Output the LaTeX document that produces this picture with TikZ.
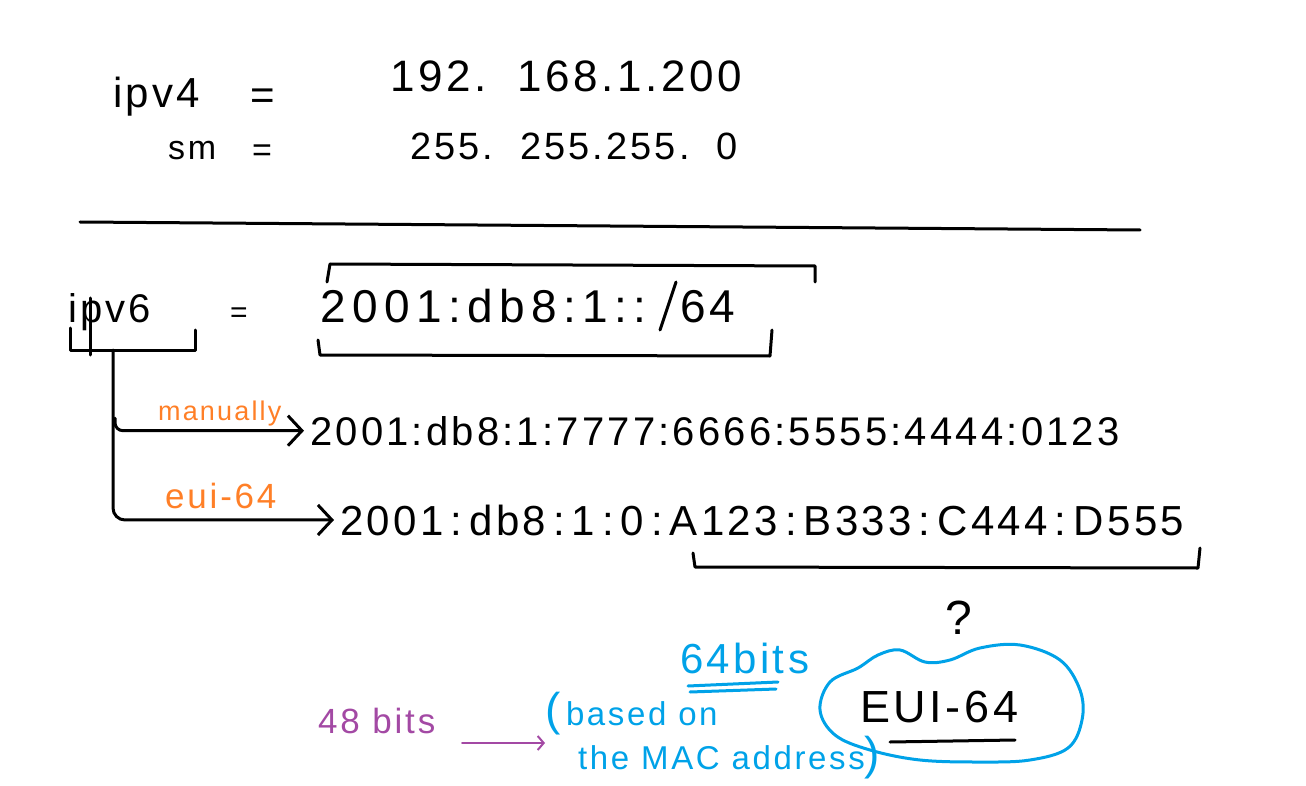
\documentclass[tikz,border=0pt]{standalone}
\usepackage{fontspec}
\setmainfont{Liberation Sans}[LetterSpace=8]
\usetikzlibrary{arrows.meta}

\definecolor{penorange}{HTML}{FF7F27}
\definecolor{penblue}{HTML}{00A2E8}
\definecolor{penpurple}{HTML}{A349A4}
\newcommand\handsize[1]{\fontsize{#1}{#1}\selectfont}

\begin{document}
\begin{tikzpicture}[
    x=1pt, y=-1pt,
    hand/.style={inner sep=0pt, anchor=base west},
    pen/.style={line width=3pt, line cap=round, line join=round},
    arrow/.style={pen, -{Straight Barb[length=14pt,width=30pt]}, shorten >=6pt},
    thinarrow/.style={line width=2pt, line cap=round, penpurple, -{Straight Barb[length=6pt,width=14pt]}},
    blob/.style={line width=3pt, penblue, line join=round}
]
\useasboundingbox (0,0) rectangle (1306,786);
% ipv4 part
\node[hand, font=\handsize{42}] (ipv4) at (113,108) {ipv4};
\node[hand, font=\handsize{42}] (eq4) at (250,110) {=};
\node[hand, font=\handsize{44}] (addr4) at (390,92) {192.\ \ 168.1.200};
\node[hand, font=\handsize{34}] (sm) at (168,160) {sm};
\node[hand, font=\handsize{34}] (eqsm) at (252,162) {=};
\node[hand, font=\handsize{38}] (mask) at (410,160) {255.\ \ 255.255.\ \ 0};
\draw[pen] (80,222) -- (1140,230);
% ipv6 prefix
\node[hand, font=\handsize{40}] (ipv6) at (68,323) {ipv6};
\node[hand, font=\handsize{30}] (eq6) at (230,323) {=};
\node[hand, font=\handsize{46}\addfontfeature{LetterSpace=14}] (prefix) at (320,323) {2001:db8:1::};
\node[hand, font=\handsize{46}] (len) at (680,323) {64};
\draw[pen] (660,330) -- (676,282);
\draw[pen] (70,328) -- (70,350) -- (195,350) -- (195,330);
\draw[pen] (90,298) -- (90,355);
\draw[pen] (327,282) -- (330,264) -- (815,266) -- (815,282);
\draw[pen] (318,340) -- (320,355) -- (770,356) -- (772,330);
% the two ways
\node[hand, font=\handsize{40}] (rowA) at (310,445) {2001:db8:1:7777:6666:5555:4444:0123};
\node[hand, font=\handsize{42}] (rowB) at (340,535) {2001\,:\,db8\,:\,1\,:\,0\,:\,A123\,:\,B333\,:\,C444\,:\,D555};
\coordinate (fork) at (113,350);
\coordinate (branch) at (115,418);
\draw[arrow, rounded corners=12pt] (fork) |- (rowB.west);
\draw[arrow, rounded corners=8pt] (branch) |- (rowA.west);
\node[hand, font=\handsize{27}, text=penorange] (manual) at (158,420) {manually};
\node[hand, font=\handsize{35}, text=penorange] (euilbl) at (165,508) {eui-64};
\draw[pen] (693,553) -- (695,567) -- (1198,568) -- (1200,548);
% interface id
\node[hand, font=\handsize{48}] (qmark) at (945,634) {?};
\node[hand, font=\handsize{45}] (eui) at (860,722) {EUI-64};
\draw[pen] (890,742) -- (1015,740);
\draw[blob] plot[smooth cycle, tension=0.6] coordinates {
  (820,710) (830,682) (858,668) (878,655) (900,650) (925,662) (950,660)
  (980,648) (1020,645) (1060,660) (1080,690) (1082,720) (1068,748)
  (1030,760) (980,762) (920,760) (870,750) (835,735)};
\node[hand, font=\handsize{42}, text=penblue] (bits64) at (680,673) {64bits};
\draw[pen, penblue] (688,686) -- (778,682);
\draw[pen, penblue] (690,692) -- (776,689);
\node[inner sep=0pt, anchor=north west, align=left, font=\fontsize{33}{44}\selectfont, text=penblue] (note) at (545,692) {{\fontsize{46}{44}\selectfont(}\,based on\\\hspace*{33pt}the MAC address{\fontsize{46}{44}\selectfont)}};
\node[hand, font=\handsize{35}, text=penpurple] (bits48) at (318,733) {48 bits};
\coordinate (tail48) at (462,743);
\draw[thinarrow] (tail48) -- (note.west |- tail48);
\end{tikzpicture}
\end{document}
